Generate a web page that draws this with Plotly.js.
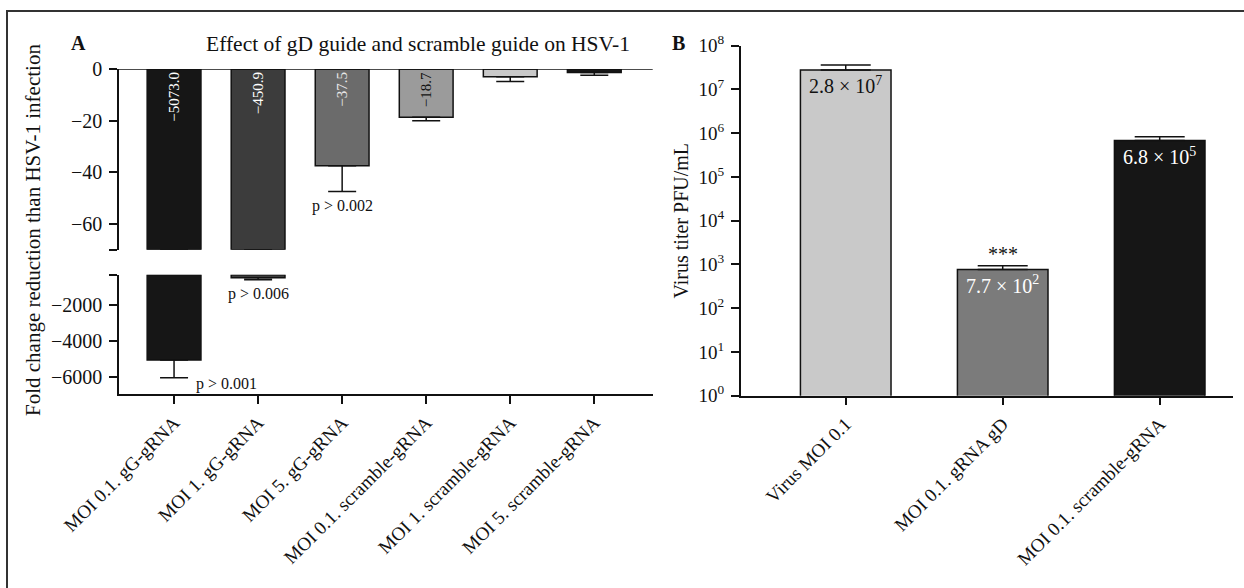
<!DOCTYPE html>
<html><head><meta charset="utf-8">
<script src="https://cdn.plot.ly/plotly-3.0.1.min.js"></script>
<style>html,body{margin:0;padding:0;background:#fff}#chart{width:1244px;height:588px}</style>
</head><body><div id="chart"></div>
<script>
// ---------- data: panel A ----------
const categoriesA = ['MOI 0.1. gG-gRNA','MOI 1. gG-gRNA','MOI 5. gG-gRNA','MOI 0.1. scramble-gRNA','MOI 1. scramble-gRNA','MOI 5. scramble-gRNA'];
const foldChange = [-5073.0, -450.9, -37.5, -18.7, -3.0, -1.4];
const foldError = [1000, 110, 10, 1.3, 1.8, 1.0];
const foldLabels = ['\u22125073.0', '\u2212450.9', '\u221237.5', '\u221218.7', '', ''];
const pValueLabels = ['p > 0.001', 'p > 0.006', 'p > 0.002', '', '', ''];
const colorsA = ['#161616', '#3c3c3c', '#6b6b6b', '#9b9b9b', '#c9c9c9', '#161616'];
const labelColorsA = ['#ffffff', '#ffffff', '#e8e8e8', '#111111', '#111111', '#111111'];
const upperTicks = [0, -20, -40, -60];
const lowerTicks = [-2000, -4000, -6000];

// ---------- data: panel B ----------
const categoriesB = ['Virus MOI 0.1', 'MOI 0.1. gRNA gD', 'MOI 0.1. scramble-gRNA'];
const titer = [2.8e7, 7.7e2, 6.8e5];
const titerError = [0.8e7, 170, 1.5e5];
const titerLabels = ['2.8 \u00d7 10<sup>7</sup>', '7.7 \u00d7 10<sup>2</sup>', '6.8 \u00d7 10<sup>5</sup>'];
const colorsB = ['#c9c9c9', '#7b7b7b', '#161616'];
const labelColorsB = ['#111111', '#ffffff', '#ffffff'];
const logTickExponents = [0, 1, 2, 3, 4, 5, 6, 7, 8];

// axis break (panel A)
const upperMin = -70;
const lowerMax = -280;
const lowerMin = -7000;

// ---------- layout helpers ----------
const W = 1244, H = 588;
const px = x => x / W;
const py = y => 1 - y / H;
const FONT = '"Liberation Serif", "Times New Roman", serif';
const INK = '#111111';
const fmtMinus = v => (v < 0 ? '\u2212' : '') + Math.abs(v);

const zerosA = foldChange.map(() => 0);

const traceUpper = {
  type: 'bar', x: categoriesA, xaxis: 'x', yaxis: 'y',
  y: foldChange.map(v => Math.max(v, upperMin)),
  width: 0.64,
  marker: {color: colorsA, line: {color: INK, width: 1.5}},
  error_y: {type: 'data', symmetric: false, array: zerosA,
            arrayminus: foldError.map((e, i) => foldChange[i] < upperMin ? 0 : e),
            color: INK, thickness: 1.5, width: 14},
  text: foldLabels, textposition: 'inside', insidetextanchor: 'start', textangle: -90,
  textfont: {family: FONT, size: 15, color: labelColorsA},
  hoverinfo: 'skip', showlegend: false
};

const traceLower = {
  type: 'bar', x: categoriesA, xaxis: 'x', yaxis: 'y2',
  base: foldChange.map(v => v < lowerMax ? lowerMax : null),
  y: foldChange.map(v => v < lowerMax ? v - lowerMax : null),
  width: 0.64,
  marker: {color: colorsA, line: {color: INK, width: 1.5}},
  error_y: {type: 'data', symmetric: false, array: zerosA,
            arrayminus: foldError.map((e, i) => foldChange[i] < lowerMax ? e : 0),
            color: INK, thickness: 1.5, width: 14},
  hoverinfo: 'skip', showlegend: false
};

const traceB = {
  type: 'bar', x: categoriesB, y: titer, xaxis: 'x2', yaxis: 'y3',
  width: 0.577,
  marker: {color: colorsB, line: {color: INK, width: 1.5}},
  error_y: {type: 'data', symmetric: false, array: titerError, arrayminus: titer.map(() => 0),
            color: INK, thickness: 1.5, width: 25},
  text: titerLabels, textposition: 'inside', insidetextanchor: 'end', textangle: 0,
  textfont: {family: FONT, size: 20, color: labelColorsB},
  hoverinfo: 'skip', showlegend: false
};

const axisCommon = {
  showline: true, linecolor: INK, linewidth: 1.5,
  ticks: 'outside', ticklen: 8, tickwidth: 1.5, tickcolor: INK,
  showgrid: false, zeroline: false,
  tickfont: {family: FONT, size: 20, color: INK}
};
const catTickFont = {family: FONT, size: 19, color: INK};

const annotations = [];
// p-value labels
pValueLabels.forEach((t, i) => {
  if (!t) return;
  const end = foldChange[i] - foldError[i];
  const inLower = end < upperMin;
  const a = {
    text: t, xref: 'x', yref: inLower ? 'y2' : 'y', x: categoriesA[i], y: end,
    showarrow: false, font: {family: FONT, size: 16, color: INK}
  };
  if (i === 0) { a.xanchor = 'left'; a.xshift = 20; a.yanchor = 'middle'; a.yshift = -6; }
  else { a.xanchor = 'center'; a.yanchor = 'top'; a.yshift = -3; }
  annotations.push(a);
});
// significance stars over panel B bar 2
annotations.push({
  text: '***', xref: 'x2', yref: 'y3', x: categoriesB[1], y: Math.log10(titer[1] + titerError[1]),
  xanchor: 'center', yanchor: 'bottom', yshift: -1, showarrow: false,
  font: {family: FONT, size: 20, color: INK}
});
// panel letters
annotations.push({text: '<b>A</b>', xref: 'paper', yref: 'paper', x: px(78), y: py(43),
  xanchor: 'center', yanchor: 'middle', showarrow: false, font: {family: FONT, size: 20, color: INK}});
annotations.push({text: '<b>B</b>', xref: 'paper', yref: 'paper', x: px(678), y: py(43),
  xanchor: 'center', yanchor: 'middle', showarrow: false, font: {family: FONT, size: 20, color: INK}});
// panel A y title spanning both segments
annotations.push({text: 'Fold change reduction than HSV-1 infection', xref: 'paper', yref: 'paper',
  x: px(33), y: py(230), xanchor: 'center', yanchor: 'middle', textangle: -90, showarrow: false,
  font: {family: FONT, size: 21, color: INK}});

const layout = {
  width: W, height: H,
  margin: {l: 0, r: 0, t: 0, b: 0},
  paper_bgcolor: '#ffffff', plot_bgcolor: 'rgba(0,0,0,0)',
  font: {family: FONT, color: INK},
  showlegend: false,
  title: {text: 'Effect of gD guide and scramble guide on HSV-1', x: px(418), y: py(43),
          xref: 'paper', yref: 'paper', xanchor: 'center', yanchor: 'middle',
          font: {family: FONT, size: 21.5, color: INK}},
  xaxis: Object.assign({}, axisCommon, {
    domain: [px(119), px(652.7)], anchor: 'y2', type: 'category',
    range: [-0.655, 5.695], tickangle: -45, tickfont: catTickFont
  }),
  yaxis: Object.assign({}, axisCommon, {
    domain: [py(249.7), py(69)], anchor: 'x', range: [upperMin, 0],
    tickmode: 'array', tickvals: upperTicks.concat([upperMin]),
    ticktext: upperTicks.map(fmtMinus).concat(['']), ticklabelstandoff: 3
  }),
  yaxis2: Object.assign({}, axisCommon, {
    domain: [py(394.3), py(274.7)], anchor: 'x', range: [lowerMin, lowerMax],
    tickmode: 'array', tickvals: [lowerMax].concat(lowerTicks),
    ticktext: [''].concat(lowerTicks.map(fmtMinus)), ticklabelstandoff: 3
  }),
  xaxis2: Object.assign({}, axisCommon, {
    domain: [px(740.7), px(1232.7)], anchor: 'y3', type: 'category',
    range: [-0.669, 2.465], tickangle: -45, tickfont: catTickFont
  }),
  yaxis3: Object.assign({}, axisCommon, {
    domain: [py(395.7), py(45.7)], anchor: 'x2', type: 'log', range: [0, 8],
    tickmode: 'array', tickvals: logTickExponents.map(e => Math.pow(10, e)),
    ticktext: logTickExponents.map(e => '10<sup>' + e + '</sup>'), ticklabelstandoff: 3,
    tickfont: {family: FONT, size: 19, color: INK},
    title: {text: 'Virus titer PFU/mL', font: {family: FONT, size: 20, color: INK}, standoff: 4}
  }),
  shapes: [
    // zero line of panel A
    {type: 'line', xref: 'x domain', yref: 'y', x0: 0, x1: 1, y0: 0, y1: 0,
     line: {color: INK, width: 1.5}},
    // figure frame
    {type: 'rect', xref: 'paper', yref: 'paper', x0: px(7), x1: 1.05, y0: -0.05, y1: py(11),
     line: {color: '#333333', width: 2}, fillcolor: 'rgba(0,0,0,0)'}
  ],
  annotations: annotations
};

Plotly.newPlot('chart', [traceUpper, traceLower, traceB], layout, {displayModeBar: false});
</script>
</body></html>
